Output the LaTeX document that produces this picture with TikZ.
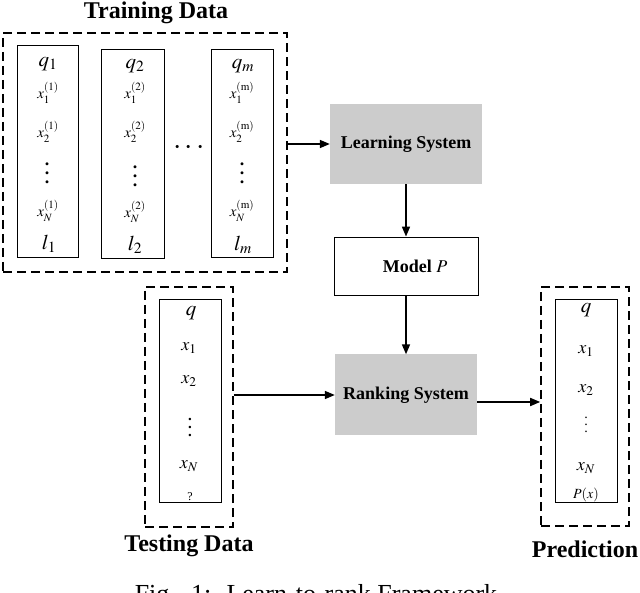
\documentclass[tikz,border=0pt]{standalone}
\usepackage{mathptmx}
\usepackage[no-math]{fontspec}
\setmainfont{Liberation Serif}
\usetikzlibrary{arrows.meta,positioning}
\definecolor{sysgray}{HTML}{CCCCCC}
% three stacked dots with a chosen gap
\newcommand\colvdots[1]{\vbox{\baselineskip=#1\lineskiplimit=-10pt\hbox{.}\hbox{.}\hbox{.}}}

\begin{document}
\begin{tikzpicture}[x=1pt, y=-1pt,
    databox/.style={rectangle, draw, dash pattern=on 9pt off 5pt, line width=1.6pt,
      inner sep=0pt},
    colbox/.style={rectangle, draw, line width=0.8pt, inner sep=0pt, minimum width=62pt},
    sysbox/.style={rectangle, fill=sysgray, inner sep=0pt, font=\fontsize{18}{20}\selectfont\bfseries},
    modelbox/.style={rectangle, draw, line width=0.8pt, fill=white, inner sep=0pt,
      font=\fontsize{18}{20}\selectfont\bfseries},
    title/.style={font=\fontsize{24}{26}\selectfont\bfseries},
    big/.style={font=\fontsize{21}{23}\selectfont},
    small/.style={font=\fontsize{15}{17}\selectfont},
    mid/.style={font=\fontsize{18}{20}\selectfont},
    vdot/.style={font=\fontsize{18}{18}\selectfont\bfseries, inner sep=0pt},
    arr/.style={-{Triangle[length=10pt, width=8pt]}, line width=1.6pt}
  ]
  \useasboundingbox (0,0) rectangle (640,593);

  % training data
  \node[databox, minimum width=284pt, minimum height=239pt] (train) at (145,152.5) {};
  \node[colbox, minimum width=61pt, minimum height=212pt] (c1) at (47.5,151) {};
  \node[colbox, minimum width=63pt, minimum height=209pt] (c2) at (132.5,153.5) {};
  \node[colbox, minimum height=208pt] (c3) at (242,153) {};
  \node[title] (traint) at (156,13) {Training Data};

  \node[big] (q1) at (48,64) {$q_1$};
  \node[small] (x11) at (48,93) {$x_1^{(1)}$};
  \node[small] (x21) at (48,132) {$x_2^{(1)}$};
  \node[vdot] (d1) at (47,173) {\colvdots{9pt}};
  \node[small] (xn1) at (48,211) {$x_N^{(1)}$};
  \node[big] (l1) at (49,244) {$l_1$};

  \node[big] (q2) at (135,66) {$q_2$};
  \node[small] (x12) at (135,93) {$x_1^{(2)}$};
  \node[small] (x22) at (135,132) {$x_2^{(2)}$};
  \node[vdot] (d2) at (135,176) {\colvdots{9pt}};
  \node[small] (xn2) at (135,212) {$x_N^{(2)}$};
  \node[big] (l2) at (135,245) {$l_2$};

  \node[big] (qm) at (243,66) {$q_m$};
  \node[small] (x1m) at (242,93) {$x_1^{(\mathrm{m})}$};
  \node[small] (x2m) at (242,132) {$x_2^{(\mathrm{m})}$};
  \node[vdot] (dm) at (242,173) {\colvdots{9pt}};
  \node[small] (xnm) at (242,211) {$x_N^{(\mathrm{m})}$};
  \node[big] (lm) at (243,245) {$l_m$};

  \node[font=\fontsize{30}{30}\selectfont\bfseries] (dots) at (189,148) {$\cdots$};

  % systems
  \node[sysbox, minimum width=152pt, minimum height=80pt] (learn) at (406,144) {Learning System};
  \node[modelbox, minimum width=144pt, minimum height=58pt] (model) at (406,266) {\hspace{18pt}Model $P$};
  \node[sysbox, minimum width=142pt, minimum height=81pt] (rank) at (406,395) {Ranking System};

  % testing data
  \node[databox, minimum width=88pt, minimum height=240pt] (test) at (189,407) {};
  \node[colbox, minimum height=203pt] (tcol) at (190,400.5) {};
  \node[title] (testt) at (189,546) {Testing Data};
  \node[big] (tq) at (191,313) {$q$};
  \node[mid] (tx1) at (189,348) {$x_1$};
  \node[mid] (tx2) at (189,381) {$x_2$};
  \node[vdot, font=\fontsize{15}{15}\selectfont\bfseries] (td) at (190,427) {\colvdots{8pt}};
  \node[mid] (txn) at (189,466) {$x_N$};
  \node[font=\fontsize{12}{14}\selectfont] (tqm) at (190,497) {?};

  % prediction
  \node[databox, minimum width=88pt, minimum height=239pt] (pred) at (585,406.5) {};
  \node[colbox, minimum height=203pt] (pcol) at (586,400.5) {};
  \node[title] (predt) at (585,549) {Prediction};
  \node[big] (pq) at (586,310) {$q$};
  \node[mid] (px1) at (586,351) {$x_1$};
  \node[mid] (px2) at (586,390) {$x_2$};
  \node[vdot, font=\fontsize{14}{14}\selectfont] (pd) at (586,425) {\colvdots{7pt}};
  \node[mid] (pxn) at (586,468) {$x_N$};
  \node[font=\fontsize{14}{16}\selectfont] (pp) at (586,495) {$P(x)$};

  % arrows
  \draw[arr] (learn.west -| train.east) -- (learn.west);
  \draw[arr] (learn) -- (model);
  \draw[arr] (model) -- (rank);
  \draw[arr] (rank.west -| test.east) -- (rank.west);
  \draw[arr] ([yshift=-7pt]rank.east) -- ([yshift=-7pt]rank.east -| pred.west);

  \node[font=\fontsize{26}{28}\selectfont, anchor=north] (cap) at (316,581) {Fig.~ 1:~ Learn-to-rank Framework};
\end{tikzpicture}
\end{document}
